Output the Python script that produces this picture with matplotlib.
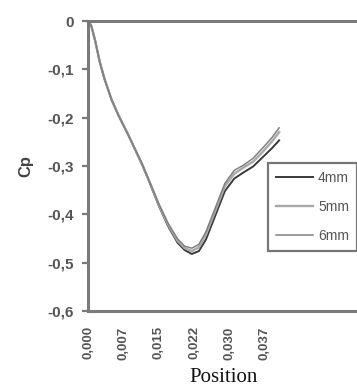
import matplotlib.pyplot as plt

# Data
position = [0.0, 0.0007, 0.0015, 0.0025, 0.0035, 0.005, 0.0065, 0.0085, 0.010,
            0.0115, 0.013, 0.015, 0.017, 0.019, 0.0205, 0.022, 0.0235, 0.025,
            0.027, 0.029, 0.031, 0.033, 0.035, 0.037, 0.039, 0.0405]

cp_4mm = [0.0, -0.010, -0.040, -0.085, -0.120, -0.163, -0.196, -0.235, -0.266,
          -0.298, -0.333, -0.382, -0.425, -0.459, -0.474, -0.482, -0.476, -0.452,
          -0.402, -0.352, -0.326, -0.313, -0.301, -0.282, -0.263, -0.247]
cp_5mm = [0.0, -0.010, -0.040, -0.085, -0.120, -0.163, -0.196, -0.235, -0.266,
          -0.297, -0.332, -0.380, -0.422, -0.455, -0.470, -0.476, -0.468, -0.442,
          -0.392, -0.342, -0.316, -0.303, -0.291, -0.271, -0.249, -0.230]
cp_6mm = [0.0, -0.010, -0.040, -0.085, -0.120, -0.163, -0.196, -0.235, -0.266,
          -0.296, -0.331, -0.378, -0.419, -0.451, -0.466, -0.470, -0.462, -0.436,
          -0.386, -0.336, -0.309, -0.298, -0.284, -0.263, -0.241, -0.221]

xtick_vals = [0.0, 0.0075, 0.015, 0.0225, 0.030, 0.0375]
xtick_labels = ["0,000", "0,007", "0,015", "0,022", "0,030", "0,037"]
ytick_vals = [0.0, -0.1, -0.2, -0.3, -0.4, -0.5, -0.6]
ytick_labels = ["0", "-0,1", "-0,2", "-0,3", "-0,4", "-0,5", "-0,6"]

plt.rcParams["font.family"] = ["Liberation Sans", "DejaVu Sans"]

fig = plt.figure(figsize=(3.57, 3.89), dpi=100)
ax = fig.add_axes([0.2465, 0.2005, 0.76, 0.7455])

ax.plot(position, cp_4mm, color="#3a3a3a", lw=1.4, label="4mm")
ax.plot(position, cp_5mm, color="#a8a8a8", lw=1.7, label="5mm")
ax.plot(position, cp_6mm, color="#808080", lw=1.1, label="6mm")

ax.set_xlim(0, 0.0575)
ax.set_ylim(-0.6, 0)

ax.set_xticks(xtick_vals)
ax.set_xticklabels(xtick_labels, rotation=90, fontsize=9.5, fontweight="bold",
                   color="#555555")
ax.set_yticks(ytick_vals)
ax.set_yticklabels(ytick_labels, fontsize=11, fontweight="bold", color="#555555")
ax.tick_params(axis="y", direction="out", length=4.5, width=1.6, color="#7a7a7a", pad=6)
ax.tick_params(axis="x", length=0, pad=11)

for side in ["left", "bottom", "top"]:
    ax.spines[side].set_color("#7a7a7a")
    ax.spines[side].set_linewidth(2.2)
ax.spines["right"].set_visible(False)

ax.set_ylabel("Cp", fontsize=12, fontweight="bold", color="#444444", labelpad=10)
fig.text(0.627, 0.004, "Position", family="Liberation Serif", fontsize=15,
         ha="center", va="bottom", color="#111111")

leg = ax.legend(loc="upper left", bbox_to_anchor=(0.751, 0.581),
                bbox_transform=fig.transFigure, prop={"size": 10}, frameon=True,
                fancybox=False, handlelength=2.7, handletextpad=0.35,
                labelspacing=1.1, borderpad=0.55, borderaxespad=0)
leg.get_frame().set_edgecolor("#555555")
leg.get_frame().set_linewidth(1.6)
for t in leg.get_texts():
    t.set_color("#555555")

plt.savefig("out.png", dpi=100)
